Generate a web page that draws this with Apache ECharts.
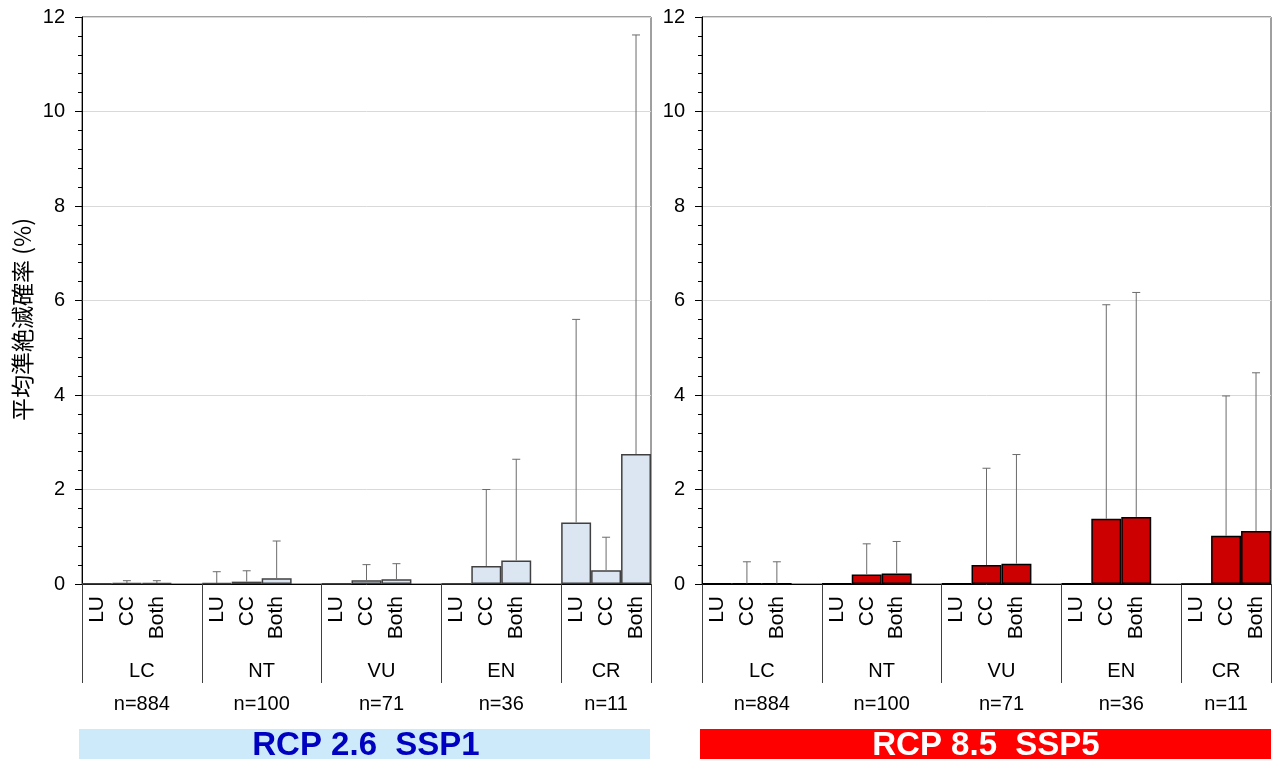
<!DOCTYPE html>
<html>
<head>
<meta charset="utf-8">
<script src="https://cdn.jsdelivr.net/npm/echarts@6/dist/echarts.min.js"></script>
<style>
html,body{margin:0;padding:0;background:#fff;}
#main{width:1273px;height:760px;}
</style>
</head>
<body>
<div id="main"></div>
<script>
// ---- data ----
const barNames = ['LU', 'CC', 'Both'];
const groupNames = ['LC', 'NT', 'VU', 'EN', 'CR'];
const groupCounts = ['n=884', 'n=100', 'n=71', 'n=36', 'n=11'];
const yAxisTitle = '平均準絶滅確率 (%)';
const panelTitles = ['RCP 2.6  SSP1', 'RCP 8.5  SSP5'];
// mean values (order: LC LU,CC,Both, NT ..., VU ..., EN ..., CR ...)
const rcp26Mean  = [0.01, 0.02, 0.02,  0.02, 0.05, 0.12,  0.01, 0.08, 0.10,  0.01, 0.38, 0.50,  1.30, 0.29, 2.75];
const rcp26Upper = [0.01, 0.07, 0.07,  0.26, 0.28, 0.91,  0.01, 0.41, 0.43,  0.01, 2.00, 2.64,  5.60, 0.99, 11.62];
const rcp85Mean  = [0.01, 0.01, 0.01,  0.01, 0.20, 0.22,  0.01, 0.40, 0.43,  0.01, 1.38, 1.42,  0,    1.02, 1.12];
const rcp85Upper = [0.01, 0.47, 0.47,  0.01, 0.85, 0.90,  0.01, 2.45, 2.74,  0.01, 5.91, 6.17,  0,    3.98, 4.47];
const yMin = 0, yMax = 12, yInterval = 2;

// ---- build slots (3 bars + 1 gap per group, no gap after last group) ----
const slotLabels = [];
const slotDataIdx = [];
const groupSpans = [];
groupNames.forEach((g, gi) => {
  const start = slotLabels.length;
  barNames.forEach((b, bi) => { slotLabels.push(b); slotDataIdx.push(gi * 3 + bi); });
  if (gi < groupNames.length - 1) { slotLabels.push(''); slotDataIdx.push(-1); }
  groupSpans.push([start, 0, slotLabels.length - 1]);
});

const FONT = '"Liberation Sans", Arial, sans-serif';

function barData(vals) {
  return slotDataIdx.map(i => i < 0 ? null : vals[i]);
}
function errData(means, uppers) {
  const out = [];
  slotDataIdx.forEach((i, s) => { if (i >= 0 && uppers[i] > means[i]) out.push([s, means[i], uppers[i]]); });
  return out;
}

function renderErr(params, api) {
  const x = api.value(0);
  const lo = api.coord([x, api.value(1)]);
  const hi = api.coord([x, api.value(2)]);
  const st = { stroke: '#6b6b6b', lineWidth: 1 };
  return {
    type: 'group',
    children: [
      { type: 'line', shape: { x1: lo[0], y1: lo[1], x2: hi[0], y2: hi[1] }, style: st },
      { type: 'line', shape: { x1: hi[0] - 4, y1: hi[1], x2: hi[0] + 4, y2: hi[1] }, style: st }
    ]
  };
}
function renderGroup(params, api) {
  const s = api.value(0), e = api.value(2);
  const w = api.size([1, 0])[0];
  const p0 = api.coord([s, 0]);
  const p1 = api.coord([e, 0]);
  const cx = ((p0[0] - w / 2) + (p1[0] + w / 2)) / 2;
  const base = p0[1];
  const gi = params.dataIndex;
  return {
    type: 'group',
    children: [
      { type: 'text', style: { x: cx, y: base + 87, text: groupNames[gi], align: 'center', verticalAlign: 'middle', fontSize: 20, fontFamily: FONT, fill: '#000' } },
      { type: 'text', style: { x: cx, y: base + 120, text: groupCounts[gi], align: 'center', verticalAlign: 'middle', fontSize: 20, fontFamily: FONT, fill: '#000' } }
    ]
  };
}

const grids = [
  { left: 82, right: 622, top: 17, bottom: 176, show: true, borderColor: '#404040', borderWidth: 1, backgroundColor: 'transparent' },
  { left: 702, right: 2, top: 17, bottom: 176, show: true, borderColor: '#404040', borderWidth: 1, backgroundColor: 'transparent' }
];

function makeX(gi) {
  return {
    type: 'category', gridIndex: gi, data: slotLabels, boundaryGap: true,
    axisLine: { lineStyle: { color: '#000', width: 1 } },
    axisTick: { show: true, interval: (idx) => idx % 4 === 0, length: 99, lineStyle: { color: '#404040', width: 1 } },
    axisLabel: { interval: 0, rotate: 90, margin: 12, fontSize: 21, fontFamily: FONT, color: '#000' },
    splitLine: { show: false }
  };
}
function makeY(gi, withName) {
  const y = {
    type: 'value', gridIndex: gi, min: yMin, max: yMax, interval: yInterval,
    axisLine: { show: true, lineStyle: { color: '#000', width: 1 } },
    axisTick: { show: true, inside: false, length: 7, lineStyle: { color: '#000' } },
    minorTick: { show: true, splitNumber: 5, length: 4, lineStyle: { color: '#000' } },
    axisLabel: { fontSize: 20, fontFamily: FONT, color: '#000', margin: 17 },
    splitLine: { show: true, lineStyle: { color: '#d9d9d9', width: 1 } }
  };
  if (withName) {
    y.name = yAxisTitle;
    y.nameLocation = 'middle';
    y.nameGap = 48;
    y.nameRotate = 90;
    y.nameTextStyle = { fontSize: 23, fontFamily: '"Noto Sans CJK JP", sans-serif', color: '#000', padding: [0, 38, 0, 0] };
  }
  return y;
}

const option = {
  animation: false,
  backgroundColor: '#fff',
  grid: grids,
  xAxis: [makeX(0), makeX(1)],
  yAxis: [makeY(0, true), makeY(1, false)],
  series: [
    { type: 'bar', xAxisIndex: 0, yAxisIndex: 0, data: barData(rcp26Mean), barWidth: '100%', barGap: '0%',
      itemStyle: { color: '#dce6f2', borderColor: '#404040', borderWidth: 1.5 }, z: 2 },
    { type: 'custom', xAxisIndex: 0, yAxisIndex: 0, data: errData(rcp26Mean, rcp26Upper), encode: { x: 0, y: [1, 2] }, renderItem: renderErr, z: 3 },
    { type: 'custom', xAxisIndex: 0, yAxisIndex: 0, data: groupSpans, encode: { x: 0, y: 1 }, renderItem: renderGroup, clip: false, silent: true },
    { type: 'bar', xAxisIndex: 1, yAxisIndex: 1, data: barData(rcp85Mean), barWidth: '100%', barGap: '0%',
      itemStyle: { color: '#cc0000', borderColor: '#000', borderWidth: 1.5 }, z: 2 },
    { type: 'custom', xAxisIndex: 1, yAxisIndex: 1, data: errData(rcp85Mean, rcp85Upper), encode: { x: 0, y: [1, 2] }, renderItem: renderErr, z: 3 },
    { type: 'custom', xAxisIndex: 1, yAxisIndex: 1, data: groupSpans, encode: { x: 0, y: 1 }, renderItem: renderGroup, clip: false, silent: true }
  ],
  graphic: [
    { type: 'rect', left: 79, top: 729, shape: { width: 571, height: 30 }, style: { fill: '#cceafa' } },
    { type: 'text', x: 366, y: 746, style: { text: panelTitles[0], align: 'center', verticalAlign: 'middle', fontSize: 33, fontWeight: 'bold', fontFamily: FONT, fill: '#0000c0' } },
    { type: 'rect', left: 700, top: 729, shape: { width: 571, height: 30 }, style: { fill: '#ff0000' } },
    { type: 'text', x: 986, y: 746, style: { text: panelTitles[1], align: 'center', verticalAlign: 'middle', fontSize: 33, fontWeight: 'bold', fontFamily: FONT, fill: '#ffffff' } }
  ]
};

const chart = echarts.init(document.getElementById('main'), null, { renderer: 'canvas' });
chart.setOption(option);
</script>
</body>
</html>
